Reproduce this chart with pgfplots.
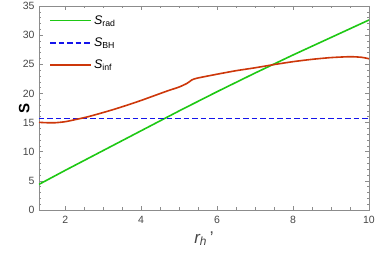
\documentclass[border=0pt]{standalone}
\usepackage{pgfplots}
\pgfplotsset{compat=1.18}
\usepackage{fontspec}
\setmainfont{Liberation Sans}
\definecolor{cgreen}{RGB}{30,200,20}
\definecolor{cblue}{RGB}{20,20,235}
\definecolor{cred}{RGB}{205,55,10}
\definecolor{tickgray}{RGB}{70,70,70}
\definecolor{framegray}{RGB}{140,140,140}
\begin{document}
\begin{tikzpicture}
\begin{axis}[
  scale only axis,
  width=330pt, height=204pt,
  xmin=1.31, xmax=10, ymin=0, ymax=35,
  xtick={2,4,6,8,10}, ytick={0,5,...,35},
  minor x tick num=3, minor y tick num=4,
  tick align=inside,
  major tick length=4pt, minor tick length=2.5pt,
  axis line style={framegray, line width=0.6pt},
  every tick/.style={framegray, line width=0.5pt},
  tick label style={font=\fontsize{10.5}{12}\selectfont, text=tickgray},
  xticklabel style={yshift=-3pt},
  yticklabel style={xshift=-1pt},
  /pgf/number format/assume math mode=true,
  xlabel={\itshape r\textsubscript{h}\,\upshape'},
  xlabel style={font=\fontsize{17}{18}\selectfont, text=tickgray, at={(axis description cs:0.5,0)}, anchor=north, yshift=-18pt},
  ylabel={\bfseries S},
  ylabel style={font=\fontsize{15}{16}\selectfont, text=black, at={(axis description cs:0,0.5)}, yshift=6pt},
  legend style={draw=none, fill=none, at={(axis cs:1.5,34.1)}, anchor=north west,
    font=\fontsize{12.5}{14}\selectfont, row sep=8pt},
  legend cell align=left,
]
\addplot[cgreen, line width=1.6pt, legend image code/.code={\draw[cgreen, line width=1.6pt] (0pt,0pt) -- (41pt,0pt);}] coordinates {
(1.31,4.4) (2,6.8) (3,10.2) (4,13.6) (5,17.0) (6,20.3) (7,23.5) (8,26.6) (9,29.6) (10,32.6)};
\addlegendentry{\textit{S}\textsubscript{rad}}
\addplot[cblue, line width=1.6pt, dash pattern=on 5.5pt off 3pt, legend image code/.code={\draw[cblue, line width=1.6pt, dash pattern=on 5.5pt off 3pt] (0pt,0pt) -- (41pt,0pt);}] coordinates {(1.31,15.73) (10,15.73)};
\addlegendentry{\textit{S}\textsubscript{BH}}
\addplot[cred, line width=1.6pt, smooth, tension=0.4, legend image code/.code={\draw[cred, line width=1.6pt] (0pt,0pt) -- (41pt,0pt);}] coordinates {
(1.31,15.04) (1.5,14.98) (1.73,14.97) (2.0,15.15) (2.26,15.5) (2.6,16.0) (2.96,16.65) (3.3,17.3) (3.66,18.05) (4.0,18.8) (4.36,19.65) (4.7,20.45) (5.0,21.1) (5.2,21.7) (5.27,22.0) (5.33,22.3) (5.46,22.6) (6.0,23.3) (6.5,23.9) (7.0,24.4) (7.5,24.95) (8.0,25.45) (8.5,25.85) (9.0,26.15) (9.5,26.3) (9.8,26.2) (10,25.95)};
\addlegendentry{\textit{S}\textsubscript{inf}}
\end{axis}
\pgfresetboundingbox
\path (current axis.south west) ++(-39pt,-44pt) rectangle ([xshift=6pt,yshift=6pt]current axis.north east);
\end{tikzpicture}
\end{document}
